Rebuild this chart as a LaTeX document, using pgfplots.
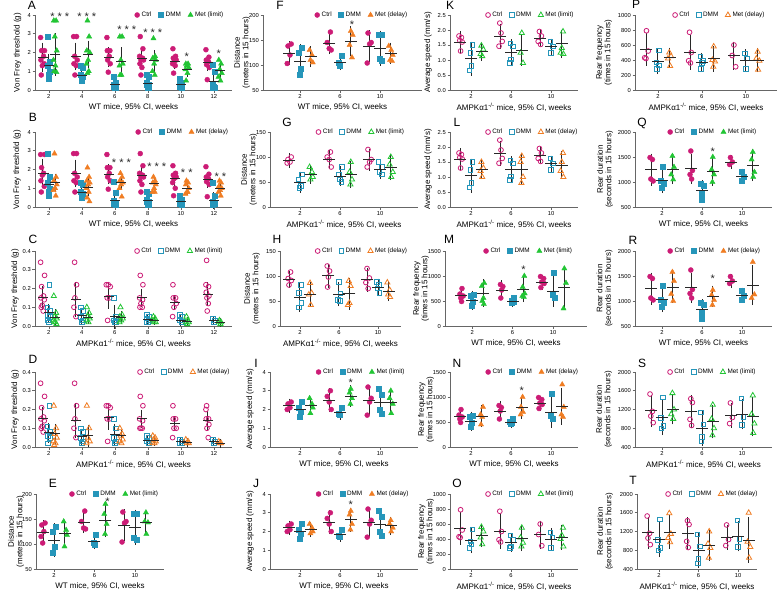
\documentclass[border=0pt]{standalone}
\usepackage{fontspec}
\setmainfont{Liberation Sans}
\usepackage{pgfplots}
\pgfplotsset{compat=1.18}
\definecolor{cc}{RGB}{204,28,118}
\definecolor{dc}{RGB}{38,150,186}
\definecolor{gc}{RGB}{34,197,52}
\definecolor{oc}{RGB}{240,125,35}
\definecolor{ec}{RGB}{40,40,40}
\pgfplotsset{
 base/.style={scale only axis, height=75pt, axis lines=left,
  axis line style={-, black!60, line width=0.7pt},
  tick style={black!60, line width=0.6pt}, tick align=outside, major tick length=2.5pt,
  ticklabel style={font=\fontsize{5.8}{7}\selectfont, inner sep=1.5pt},
  /pgf/number format/assume math mode=true, /pgf/number format/1000 sep={},
  label style={font=\fontsize{8}{8.5}\selectfont}, ylabel style={align=center},
  xlabel style={at={([yshift=-17pt]axis description cs:0.5,0)}, anchor=center},
  clip=false,
  legend style={draw=none, fill=none, font=\fontsize{6.4}{7}\selectfont, legend columns=3,
   inner sep=0pt, /tikz/every even column/.append style={column sep=5pt}},
  legend image code/.code={\draw[##1] plot coordinates {(0pt,0pt)};}},
 pos/.style n args={5}{at={(#1pt,-#2pt)}, anchor=north west, width=#3pt, xmin=#4, xmax=#5},
 leg/.style={legend style={at={(axis description cs:#1,1)}, anchor=west}},
 ylx/.style={ylabel style={at={([xshift=-#1pt]axis description cs:0,0.5)}, anchor=center}},
 six/.style={xtick={0,1,2,3,4,5}, xticklabels={2,4,6,8,10,12}},
 three/.style={xtick={0,1,2}, xticklabels={2,6,10}},
 wt/.style={xlabel={WT mice, 95\% CI, weeks}},
 ko/.style={xlabel={AMPKα1\textsuperscript{-/-} mice, 95\% CI, weeks}},
 lim/.style={legend entries={Ctrl,DMM,Met (limit)}},
 del/.style={legend entries={Ctrl,DMM,Met (delay)}},
 dec1/.style={yticklabel style={/pgf/number format/.cd, fixed, fixed zerofill, precision=1}},
 cF/.style={only marks, mark=*, mark size=2.5pt, mark options={draw=cc, fill=cc}},
 cO/.style={only marks, mark=o, mark size=2.4pt, mark options={draw=cc, line width=0.8pt}},
 dF/.style={only marks, mark=square*, mark size=2.5pt, mark options={draw=dc, fill=dc}},
 dO/.style={only marks, mark=square, mark size=2.3pt, mark options={draw=dc, line width=0.8pt}},
 gF/.style={only marks, mark=triangle*, mark size=3pt, mark options={draw=gc, fill=gc}},
 gO/.style={only marks, mark=triangle, mark size=3pt, mark options={draw=gc, line width=0.8pt}},
 oF/.style={only marks, mark=triangle*, mark size=3pt, mark options={draw=oc, fill=oc}},
 oO/.style={only marks, mark=triangle, mark size=3pt, mark options={draw=oc, line width=0.8pt}},
 ci/.style={forget plot, only marks, mark=-, mark size=6pt, mark options={ec, line width=0.9pt},
  error bars/.cd, y dir=both, y explicit, error bar style={ec, line width=0.9pt},
  error mark options={ec, mark size=3.5pt, line width=0.9pt}},
 ciS/.style={forget plot, only marks, mark=-, mark size=5pt, mark options={ec, line width=0.9pt},
  error bars/.cd, y dir=both, y explicit, error bar style={ec, line width=0.9pt},
  error mark options={ec, mark size=2.5pt, line width=0.9pt}},
}
\tikzset{ast/.style={font=\fontsize{11}{11}\selectfont, inner sep=0pt, text=ec},
 lett/.style={font=\fontsize{12}{12}\selectfont, inner sep=0pt}}
\begin{document}
\begin{tikzpicture}
\path[use as bounding box] (0pt,0pt) rectangle (778pt,-590pt);
% ---------------- A
\begin{axis}[base, pos={35}{15}{197}{-0.42}{5.55}, six, wt, lim, leg=0.505, ylx=17.5, ymin=0, ymax=4, ytick={0,1,2,3,4}, ylabel={Von Frey threshold (g)}]
\addplot[cF] coordinates {(-0.25,2.8)(-0.13,2.1)(-0.22,2.1)(-0.16,1.8)(-0.24,1.6)(-0.14,1.4)(-0.2,1.3)(-0.23,0.8)
(0.75,2.85)(0.84,2.85)(0.78,1.8)(0.86,1.6)(0.76,1.4)(0.83,1.3)(0.79,0.8)
(1.76,2.8)(1.85,2.1)(1.77,2.1)(1.83,1.8)(1.78,1.6)(1.86,1.4)(1.8,0.95)
(2.77,2.85)(2.85,2.2)(2.75,1.8)(2.84,1.7)(2.79,1.6)(2.87,1.6)(2.76,1.4)(2.82,1.2)(2.79,0.8)
(3.76,2.2)(3.84,1.8)(3.77,1.7)(3.86,1.6)(3.79,1.5)(3.75,1.4)(3.83,1.3)(3.78,0.9)
(4.76,2.15)(4.85,1.75)(4.77,1.6)(4.84,1.5)(4.78,1.35)(4.86,1.2)(4.8,0.55)};
\addplot[dF] coordinates {(-0.03,2.85)(0.02,1.5)(-0.04,1.3)(0.04,1.0)(0,0.8)(-0.02,0.6)
(0.97,1.3)(1.03,1.2)(0.98,0.8)(1.04,0.7)(1.0,0.5)
(1.97,0.7)(2.03,0.4)(1.98,0.3)(2.04,0.25)(1.96,0.15)(2.02,0.1)(2.0,0.1)
(2.97,0.8)(3.03,0.7)(2.98,0.4)(3.04,0.3)(2.96,0.3)(3.02,0.1)(3.0,0.1)
(3.97,0.6)(4.03,0.4)(3.98,0.3)(4.04,0.3)(3.96,0.2)(4.02,0.1)
(4.97,1.35)(5.03,1.0)(4.98,0.3)(5.04,0.1)(4.96,0.1)(5.0,0.15)};
\addplot[gF] coordinates {(0.15,3.7)(0.22,3.7)(0.18,2.85)(0.24,2.1)(0.14,1.6)(0.2,1.3)(0.16,1.0)(0.23,0.95)
(1.17,3.7)(1.22,2.85)(1.15,2.1)(1.24,2.0)(1.19,1.6)(1.14,1.4)(1.21,1.0)(1.17,0.9)
(2.15,2.85)(2.22,2.85)(2.18,1.6)(2.24,1.4)(2.14,1.3)(2.2,0.8)(2.16,0.8)
(3.17,2.75)(3.22,1.8)(3.15,1.7)(3.24,1.6)(3.19,1.4)(3.14,1.0)(3.21,0.8)
(4.15,1.4)(4.22,1.4)(4.18,1.3)(4.24,1.2)(4.14,1.1)(4.2,0.9)(4.16,0.5)
(5.15,1.6)(5.22,1.4)(5.18,1.1)(5.24,0.9)(5.14,0.7)(5.2,0.5)};
\addplot[ciS] coordinates {(-0.19,1.75)+-(0,0.65)(0.81,1.8)+-(0,0.6)(1.81,1.75)+-(0,0.4)(2.81,1.7)+-(0,0.3)(3.81,1.5)+-(0,0.25)(4.81,1.45)+-(0,0.3)};
\addplot[ciS] coordinates {(0,1.3)+-(0,0.5)(1,0.75)+-(0,0.3)(2,0.3)+-(0,0.2)(3,0.35)+-(0,0.2)(4,0.3)+-(0,0.15)(5,0.45)+-(0,0.35)};
\addplot[ciS] coordinates {(0.19,1.9)+-(0,1.0)(1.19,1.9)+-(0,0.6)(2.19,1.5)+-(0,0.65)(3.19,1.55)+-(0,0.45)(4.19,1.1)+-(0,0.25)(5.19,1.05)+-(0,0.3)};
\node[ast] at (axis cs:0.33,3.9) {* * *};
\node[ast] at (axis cs:1.15,3.9) {* * *};
\node[ast] at (axis cs:2.36,3.2) {* * *};
\node[ast] at (axis cs:3.15,3.05) {* * *};
\node[ast] at (axis cs:4.18,1.75) {*};
\node[ast] at (axis cs:5.15,1.95) {*};
\end{axis}
% ---------------- B
\begin{axis}[base, pos={35}{132}{197}{-0.42}{5.55}, six, wt, del, leg=0.51, ylx=18, ymin=0, ymax=4, ytick={0,1,2,3,4}, ylabel={Von Frey threshold (g)}]
\addplot[cF] coordinates {(-0.25,2.8)(-0.13,2.8)(-0.22,2.1)(-0.16,1.8)(-0.24,1.4)(-0.14,1.1)(-0.2,1.7)(-0.23,0.8)
(0.75,2.85)(0.84,2.85)(0.78,1.8)(0.86,1.6)(0.76,1.4)(0.83,1.3)(0.79,0.8)
(1.76,2.8)(1.85,2.1)(1.77,2.1)(1.83,1.8)(1.78,1.6)(1.86,1.4)(1.8,0.95)
(2.77,2.85)(2.85,2.2)(2.75,1.8)(2.84,1.7)(2.79,1.6)(2.87,1.6)(2.76,1.4)(2.82,1.2)(2.79,0.8)
(3.76,2.2)(3.84,1.8)(3.77,1.7)(3.86,1.6)(3.79,1.5)(3.75,1.3)(3.83,1.0)(3.78,0.6)
(4.76,2.15)(4.85,1.75)(4.77,1.6)(4.84,1.5)(4.78,1.35)(4.86,1.2)(4.8,0.55)};
\addplot[dF] coordinates {(-0.03,2.85)(0.02,1.6)(-0.04,1.3)(0.04,1.0)(0,0.8)(-0.02,0.6)
(0.97,1.3)(1.03,1.2)(0.98,0.8)(1.04,0.7)(1.0,0.5)
(1.97,1.35)(2.03,0.75)(1.98,0.35)(2.04,0.25)(1.96,0.15)(2.02,0.1)
(2.97,0.8)(3.03,0.7)(2.98,0.4)(3.04,0.3)(2.96,0.3)(3.02,0.1)(3.0,0.1)
(3.97,0.6)(4.03,0.4)(3.98,0.3)(4.04,0.3)(3.96,0.2)(4.02,0.1)
(4.97,1.3)(5.03,0.6)(4.98,0.3)(5.04,0.15)(4.96,0.1)};
\addplot[oF] coordinates {(0.17,2.85)(0.22,1.6)(0.15,1.4)(0.24,1.2)(0.19,1.0)(0.14,0.9)(0.21,0.6)
(1.17,2.1)(1.22,1.6)(1.15,1.4)(1.24,1.3)(1.19,1.2)(1.14,1.0)(1.21,0.8)(1.16,0.5)(1.23,0.3)
(2.17,1.8)(2.22,1.6)(2.15,1.4)(2.24,1.3)(2.19,1.2)(2.14,1.0)(2.21,0.55)
(3.17,1.6)(3.22,1.4)(3.15,1.3)(3.24,1.2)(3.19,1.0)(3.14,0.8)(3.21,0.8)
(4.17,1.4)(4.22,1.3)(4.15,1.2)(4.24,1.0)(4.19,0.8)(4.14,0.7)(4.21,0.8)
(5.17,1.4)(5.22,1.3)(5.15,1.1)(5.24,1.0)(5.19,0.9)(5.14,0.8)(5.21,0.6)};
\addplot[ciS] coordinates {(-0.19,1.8)+-(0,0.65)(0.81,1.8)+-(0,0.6)(1.81,1.75)+-(0,0.4)(2.81,1.7)+-(0,0.3)(3.81,1.5)+-(0,0.3)(4.81,1.45)+-(0,0.3)};
\addplot[ciS] coordinates {(0,1.2)+-(0,0.5)(1,0.75)+-(0,0.3)(2,0.35)+-(0,0.25)(3,0.35)+-(0,0.2)(4,0.3)+-(0,0.15)(5,0.35)+-(0,0.3)};
\addplot[ciS] coordinates {(0.19,1.3)+-(0,0.35)(1.19,1.05)+-(0,0.35)(2.19,1.3)+-(0,0.2)(3.19,1.25)+-(0,0.15)(4.19,1.0)+-(0,0.2)(5.19,1.0)+-(0,0.2)};
\node[ast] at (axis cs:2.2,2.35) {* * *};
\node[ast] at (axis cs:3.27,2.15) {* * *};
\node[ast] at (axis cs:4.18,1.85) {* *};
\node[ast] at (axis cs:5.2,1.6) {* *};
\end{axis}
% ---------------- C
\begin{axis}[base, pos={35}{251}{197}{-0.42}{5.55}, six, ko, lim, leg=0.505, ylx=20, ymin=0, ymax=0.4, ytick={0,0.1,0.2,0.3,0.4}, dec1, ylabel={Von Frey threshold (g)}]
\addplot[cO] coordinates {(-0.25,0.34)(-0.13,0.27)(-0.22,0.21)(-0.16,0.16)(-0.24,0.15)(-0.14,0.14)(-0.2,0.11)(-0.23,0.1)(-0.17,0.08)
(0.78,0.34)(0.84,0.22)(0.79,0.15)(0.76,0.1)(0.82,0.05)
(1.74,0.22)(1.8,0.22)(1.86,0.21)(1.77,0.15)(1.84,0.15)(1.78,0.03)
(2.77,0.27)(2.85,0.22)(2.75,0.15)(2.84,0.14)(2.79,0.12)(2.76,0.1)(2.83,0.1)
(3.76,0.22)(3.84,0.15)(3.77,0.15)(3.86,0.12)(3.79,0.1)(3.75,0.05)
(4.78,0.35)(4.76,0.22)(4.84,0.21)(4.77,0.18)(4.85,0.16)(4.79,0.15)(4.83,0.12)(4.8,0.08)};
\addplot[dO] coordinates {(0.02,0.22)(-0.04,0.1)(0.04,0.08)(-0.02,0.06)(0.03,0.05)(-0.03,0.03)(0,0.02)
(0.97,0.1)(1.03,0.08)(0.98,0.05)(1.04,0.03)(1.0,0.02)
(1.97,0.15)(2.03,0.05)(1.98,0.03)(2.04,0.02)(2.0,0.02)
(2.97,0.06)(3.03,0.05)(2.98,0.04)(3.04,0.03)(2.96,0.02)(3.02,0.02)
(3.97,0.06)(4.03,0.05)(3.98,0.03)(4.04,0.02)
(4.97,0.04)(5.03,0.03)(5.0,0.02)};
\addplot[gO] coordinates {(0.15,0.16)(0.22,0.07)(0.18,0.05)(0.24,0.04)(0.14,0.03)(0.2,0.02)(0.16,0.02)(0.23,0.01)
(1.15,0.1)(1.22,0.07)(1.18,0.05)(1.24,0.04)(1.14,0.03)(1.2,0.02)
(2.17,0.1)(2.22,0.06)(2.15,0.05)(2.24,0.04)(2.19,0.03)(2.14,0.02)
(3.17,0.05)(3.22,0.04)(3.15,0.03)(3.24,0.02)(3.19,0.02)
(4.17,0.05)(4.22,0.03)(4.15,0.02)(4.24,0.02)(4.19,0.01)
(5.17,0.03)(5.22,0.02)(5.15,0.02)(5.2,0.01)};
\addplot[ciS] coordinates {(-0.19,0.15)+-(0,0.05)(0.81,0.14)+-(0,0.08)(1.81,0.16)+-(0,0.055)(2.81,0.15)+-(0,0.035)(3.81,0.125)+-(0,0.025)(4.81,0.17)+-(0,0.05)};
\addplot[ciS] coordinates {(0,0.07)+-(0,0.035)(1,0.055)+-(0,0.03)(2,0.05)+-(0,0.05)(3,0.035)+-(0,0.015)(4,0.03)+-(0,0.015)(5,0.03)+-(0,0.01)};
\addplot[ciS] coordinates {(0.19,0.045)+-(0,0.03)(1.19,0.045)+-(0,0.02)(2.19,0.045)+-(0,0.02)(3.19,0.03)+-(0,0.01)(4.19,0.025)+-(0,0.01)(5.19,0.02)+-(0,0.01)};
\end{axis}
% ---------------- D
\begin{axis}[base, pos={35}{372}{197}{-0.42}{5.55}, six, ko, del, leg=0.52, ylx=20, ymin=0, ymax=0.4, ytick={0,0.1,0.2,0.3,0.4}, dec1, ylabel={Von Frey threshold (g)}]
\addplot[cO] coordinates {(-0.25,0.34)(-0.13,0.27)(-0.22,0.21)(-0.16,0.16)(-0.24,0.15)(-0.14,0.14)(-0.2,0.11)(-0.23,0.1)(-0.17,0.08)
(0.78,0.34)(0.84,0.22)(0.79,0.15)(0.76,0.1)(0.82,0.05)
(1.74,0.22)(1.8,0.22)(1.86,0.21)(1.77,0.15)(1.84,0.15)(1.78,0.03)
(2.77,0.27)(2.85,0.22)(2.75,0.15)(2.84,0.14)(2.79,0.1)(2.76,0.1)(2.83,0.1)
(3.76,0.22)(3.84,0.15)(3.77,0.15)(3.86,0.1)(3.79,0.1)(3.75,0.05)
(4.78,0.22)(4.76,0.2)(4.84,0.15)(4.77,0.15)(4.85,0.12)(4.79,0.1)(4.83,0.05)};
\addplot[dO] coordinates {(0.02,0.22)(-0.04,0.11)(0.04,0.08)(-0.02,0.06)(0.03,0.05)(-0.03,0.02)
(0.97,0.1)(1.03,0.08)(0.98,0.05)(1.04,0.03)(1.0,0.02)
(1.97,0.15)(2.03,0.1)(1.98,0.05)(2.04,0.03)(2.0,0.02)
(2.97,0.06)(3.03,0.05)(2.98,0.03)(3.04,0.02)(3.02,0.02)
(3.97,0.04)(4.03,0.03)(3.98,0.02)(4.04,0.02)
(4.97,0.04)(5.03,0.03)(5.0,0.02)};
\addplot[oO] coordinates {(0.15,0.22)(0.22,0.1)(0.18,0.07)(0.24,0.05)(0.14,0.03)(0.2,0.02)(0.16,0.01)
(1.15,0.22)(1.22,0.1)(1.18,0.05)(1.24,0.03)(1.14,0.02)
(2.15,0.1)(2.22,0.07)(2.18,0.06)(2.24,0.04)(2.14,0.03)(2.2,0.02)
(3.15,0.06)(3.22,0.05)(3.18,0.04)(3.24,0.03)(3.14,0.02)(3.2,0.02)
(4.15,0.04)(4.22,0.03)(4.18,0.02)(4.24,0.02)
(5.15,0.03)(5.22,0.02)(5.18,0.02)};
\addplot[ciS] coordinates {(-0.19,0.15)+-(0,0.05)(0.81,0.14)+-(0,0.08)(1.81,0.16)+-(0,0.055)(2.81,0.15)+-(0,0.035)(3.81,0.125)+-(0,0.025)(4.81,0.14)+-(0,0.04)};
\addplot[ciS] coordinates {(0,0.075)+-(0,0.04)(1,0.055)+-(0,0.03)(2,0.065)+-(0,0.045)(3,0.035)+-(0,0.015)(4,0.03)+-(0,0.01)(5,0.03)+-(0,0.01)};
\addplot[ciS] coordinates {(0.19,0.07)+-(0,0.04)(1.19,0.06)+-(0,0.045)(2.19,0.06)+-(0,0.02)(3.19,0.035)+-(0,0.015)(4.19,0.025)+-(0,0.01)(5.19,0.02)+-(0,0.01)};
\end{axis}
% ---------------- E
\begin{axis}[base, pos={36}{494}{128}{-0.444}{2.716}, three, wt, lim, leg=0.26, ylx=20, ymin=50, ymax=200, ytick={50,100,150,200}, ylabel={Distance\\(meters in 15 hours)}]
\addplot[cF] coordinates {(-0.22,142)(-0.3,138)(-0.25,125)(-0.32,115)(-0.28,102)(0.76,166)(0.68,145)(0.73,132)(0.78,130)(1.7,164)(1.78,145)(1.74,142)(1.68,104)};
\addplot[dF] coordinates {(0.04,135)(-0.04,125)(0.02,95)(-0.02,82)(1.04,118)(0.97,103)(1.0,99)(1.96,160)(2.04,160)(1.98,112)(2.05,108)};
\addplot[gF] coordinates {(0.24,145)(0.3,128)(0.32,118)(0.26,95)(1.27,180)(1.24,160)(1.3,140)(1.26,120)(2.27,163)(2.24,145)(2.32,143)(2.28,120)};
\addplot[ci] coordinates {(-0.27,124)+-(0,17)(0.73,144)+-(0,15)(1.73,138)+-(0,25)};
\addplot[ci] coordinates {(0,108)+-(0,27)(1,106)+-(0,9)(2,134)+-(0,28)};
\addplot[ci] coordinates {(0.27,121)+-(0,21)(1.27,148)+-(0,27)(2.27,143)+-(0,17)};
\node[ast] at (axis cs:1.32,184) {*};
\end{axis}
% ---------------- F
\begin{axis}[base, pos={263}{15}{159}{-0.925}{3.05}, three, wt, del, leg=0.324, ylx=21, ymin=50, ymax=200, ytick={50,100,150,200}, ylabel={Distance\\(meters in 15 hours)}]
\addplot[cF] coordinates {(-0.22,142)(-0.3,138)(-0.25,120)(-0.32,103)(0.76,166)(0.68,145)(0.73,133)(0.78,130)(1.7,164)(1.78,145)(1.74,142)(1.68,104)};
\addplot[dF] coordinates {(0.04,135)(-0.04,125)(0.02,93)(-0.02,80)(1.04,118)(0.97,105)(1.0,99)(1.96,160)(2.04,160)(1.98,112)(2.05,108)};
\addplot[oF] coordinates {(0.24,130)(0.3,120)(0.26,110)(0.32,105)(1.27,168)(1.32,160)(1.24,140)(1.3,115)(2.22,138)(2.28,130)(2.32,120)(2.25,110)(2.3,108)};
\addplot[ci] coordinates {(-0.27,124)+-(0,17)(0.73,144)+-(0,15)(1.73,138)+-(0,25)};
\addplot[ci] coordinates {(0,108)+-(0,27)(1,106)+-(0,9)(2,134)+-(0,28)};
\addplot[ci] coordinates {(0.27,117)+-(0,14)(1.27,148)+-(0,23)(2.27,124)+-(0,14)};
\node[ast] at (axis cs:1.3,180) {*};
\end{axis}
% ---------------- G
\begin{axis}[base, pos={270}{132}{148}{-0.75}{2.95}, three, ko, lim, leg=0.31, ylx=21, ymin=0, ymax=150, ytick={0,50,100,150}, ylabel={Distance\\(meters in 15 hours)}]
\addplot[cO] coordinates {(-0.22,100)(-0.3,95)(-0.25,90)(-0.32,88)(0.76,110)(0.68,100)(0.73,95)(0.78,80)(1.7,115)(1.78,95)(1.74,90)(1.68,80)};
\addplot[dO] coordinates {(0.04,65)(-0.04,55)(0.02,42)(-0.02,38)(1.04,80)(0.97,65)(1.0,55)(1.03,50)(1.96,90)(2.04,80)(1.98,70)(2.05,65)};
\addplot[gO] coordinates {(0.24,80)(0.3,70)(0.32,60)(0.26,55)(1.27,90)(1.24,70)(1.3,55)(1.26,45)(2.27,100)(2.24,85)(2.32,70)(2.28,60)};
\addplot[ci] coordinates {(-0.27,93)+-(0,8)(0.73,96)+-(0,12)(1.73,95)+-(0,15)};
\addplot[ci] coordinates {(0,50)+-(0,14)(1,62)+-(0,13)(2,76)+-(0,12)};
\addplot[ci] coordinates {(0.27,66)+-(0,12)(1.27,65)+-(0,20)(2.27,79)+-(0,18)};
\end{axis}
% ---------------- H
\begin{axis}[base, pos={280}{251}{121}{-0.51}{2.59}, three, ko, del, leg=0.29, ylx=28, ymin=0, ymax=150, ytick={0,50,100,150}, ylabel={Distance\\(meters in 15 hours)}]
\addplot[cO] coordinates {(-0.24,108)(-0.3,95)(-0.22,91)(-0.28,82)(0.7,120)(0.76,110)(0.73,98)(0.71,78)(1.72,115)(1.78,96)(1.69,87)(1.75,75)};
\addplot[dO] coordinates {(0.02,82)(-0.03,66)(0.04,46)(-0.02,37)(1.0,88)(1.04,65)(0.97,52)(1.02,50)(1.97,88)(2.03,82)(1.99,75)(2.04,66)};
\addplot[oO] coordinates {(0.26,86)(0.3,66)(0.23,63)(0.28,42)(1.25,90)(1.3,80)(1.27,46)(1.23,42)(2.24,87)(2.3,72)(2.26,63)(2.31,58)};
\addplot[ci] coordinates {(-0.27,94)+-(0,10)(0.73,101)+-(0,17)(1.73,93)+-(0,17)};
\addplot[ci] coordinates {(0,58)+-(0,22)(1,64)+-(0,17)(2,78)+-(0,10)};
\addplot[ci] coordinates {(0.27,64)+-(0,18)(1.27,65)+-(0,25)(2.27,70)+-(0,13)};
\end{axis}
% ---------------- I
\begin{axis}[base, pos={270}{372}{148}{-0.75}{2.95}, three, wt, lim, leg=0.31, ylx=20, ymin=0, ymax=4, ytick={0,1,2,3,4}, ylabel={Average speed (mm/s)}]
\addplot[cF] coordinates {(-0.22,2.4)(-0.3,2.3)(-0.25,2.1)(-0.32,2.0)(0.76,3.0)(0.68,2.7)(0.73,2.4)(0.78,2.0)(1.7,3.2)(1.78,2.6)(1.74,2.4)(1.68,1.7)};
\addplot[dF] coordinates {(0.04,2.4)(-0.04,2.1)(0.02,1.9)(-0.02,1.6)(1.04,2.1)(0.97,1.8)(1.0,1.7)(1.96,3.1)(2.04,2.8)(1.98,2.0)(2.05,1.8)};
\addplot[gF] coordinates {(0.24,2.6)(0.3,2.3)(0.32,2.1)(0.26,1.8)(1.27,3.1)(1.24,2.9)(1.3,2.6)(1.26,2.3)(2.27,3.0)(2.24,2.6)(2.32,2.3)(2.28,1.8)};
\addplot[ci] coordinates {(-0.27,2.2)+-(0,0.2)(0.73,2.5)+-(0,0.45)(1.73,2.5)+-(0,0.6)};
\addplot[ci] coordinates {(0,2.0)+-(0,0.3)(1,1.85)+-(0,0.2)(2,2.4)+-(0,0.6)};
\addplot[ci] coordinates {(0.27,2.2)+-(0,0.3)(1.27,2.72)+-(0,0.38)(2.27,2.4)+-(0,0.5)};
\node[ast] at (axis cs:1.27,3.45) {*};
\end{axis}
% ---------------- J
\begin{axis}[base, pos={270}{494}{148}{-0.75}{2.95}, three, wt, del, leg=0.31, ylx=20, ymin=0, ymax=4, ytick={0,1,2,3,4}, ylabel={Average speed (mm/s)}]
\addplot[cF] coordinates {(-0.22,2.4)(-0.3,2.3)(-0.25,2.1)(-0.32,2.0)(0.76,3.0)(0.68,2.7)(0.73,2.4)(0.78,2.0)(1.7,3.2)(1.78,2.6)(1.74,2.4)(1.68,1.7)};
\addplot[dF] coordinates {(0.04,2.4)(-0.04,2.1)(0.02,1.9)(-0.02,1.6)(1.04,2.1)(0.97,1.8)(1.0,1.7)(1.96,3.1)(2.04,2.8)(1.98,2.0)(2.05,1.8)};
\addplot[oF] coordinates {(0.24,2.4)(0.3,2.2)(0.32,2.0)(0.26,1.9)(1.27,3.1)(1.24,2.9)(1.3,2.4)(1.26,2.1)(2.27,2.6)(2.24,2.4)(2.32,2.2)(2.28,2.0)};
\addplot[ci] coordinates {(-0.27,2.2)+-(0,0.2)(0.73,2.5)+-(0,0.45)(1.73,2.5)+-(0,0.6)};
\addplot[ci] coordinates {(0,2.0)+-(0,0.3)(1,1.85)+-(0,0.2)(2,2.4)+-(0,0.6)};
\addplot[ci] coordinates {(0.27,2.1)+-(0,0.2)(1.27,2.62)+-(0,0.45)(2.27,2.3)+-(0,0.3)};
\node[ast] at (axis cs:1.27,3.45) {*};
\end{axis}
% ---------------- K
\begin{axis}[base, pos={450}{15}{128}{-0.525}{2.675}, three, ko, lim, leg=0.277, ylx=22, ymin=0, ymax=2.5, ytick={0,0.5,1,1.5,2,2.5}, dec1, ylabel={Average speed (mm/s)}]
\addplot[cO] coordinates {(-0.3,1.8)(-0.24,1.75)(-0.28,1.65)(-0.22,1.6)(-0.26,1.3)(0.72,2.23)(0.75,1.9)(0.78,1.62)(0.7,1.46)(1.71,1.95)(1.76,1.8)(1.68,1.62)(1.74,1.52)};
\addplot[dO] coordinates {(0.03,1.5)(-0.02,1.24)(0.01,0.8)(-0.04,0.66)(0.98,1.56)(1.04,1.46)(1.0,1.02)(0.97,0.9)(1.98,1.62)(2.04,1.46)(2.0,1.24)};
\addplot[gO] coordinates {(0.26,1.48)(0.31,1.35)(0.24,1.2)(0.28,1.13)(1.27,1.9)(1.24,1.24)(1.3,0.9)(2.3,1.95)(2.27,1.4)(2.24,1.24)(2.31,1.2)};
\addplot[ci] coordinates {(-0.27,1.6)+-(0,0.25)(0.73,1.8)+-(0,0.3)(1.73,1.73)+-(0,0.15)};
\addplot[ci] coordinates {(0,1.05)+-(0,0.45)(1,1.24)+-(0,0.33)(2,1.45)+-(0,0.15)};
\addplot[ci] coordinates {(0.27,1.28)+-(0,0.18)(1.27,1.33)+-(0,0.4)(2.27,1.55)+-(0,0.35)};
\end{axis}
% ---------------- L
\begin{axis}[base, pos={450}{132}{128}{-0.525}{2.675}, three, ko, del, leg=0.277, ylx=22, ymin=0, ymax=2.5, ytick={0,0.5,1,1.5,2,2.5}, dec1, ylabel={Average speed (mm/s)}]
\addplot[cO] coordinates {(-0.3,1.8)(-0.24,1.75)(-0.28,1.65)(-0.22,1.6)(-0.26,1.3)(0.72,2.23)(0.75,1.9)(0.78,1.62)(0.7,1.46)(1.71,1.95)(1.76,1.8)(1.68,1.62)(1.74,1.52)};
\addplot[dO] coordinates {(0.03,1.5)(-0.02,1.24)(0.01,0.8)(-0.04,0.66)(0.98,1.56)(1.04,1.46)(1.0,1.02)(0.97,0.9)(1.98,1.62)(2.04,1.46)(2.0,1.24)};
\addplot[oO] coordinates {(0.26,1.5)(0.31,1.3)(0.24,1.2)(0.28,1.0)(1.27,1.7)(1.24,1.5)(1.3,1.0)(1.26,0.8)(2.3,1.8)(2.27,1.5)(2.24,1.2)(2.31,1.0)};
\addplot[ci] coordinates {(-0.27,1.6)+-(0,0.25)(0.73,1.8)+-(0,0.3)(1.73,1.73)+-(0,0.15)};
\addplot[ci] coordinates {(0,1.05)+-(0,0.45)(1,1.24)+-(0,0.33)(2,1.45)+-(0,0.15)};
\addplot[ci] coordinates {(0.27,1.25)+-(0,0.2)(1.27,1.25)+-(0,0.4)(2.27,1.4)+-(0,0.35)};
\end{axis}
% ---------------- M
\begin{axis}[base, pos={445}{251}{142}{-0.67}{2.84}, three, wt, lim, leg=0.27, ylx=24, ymin=0, ymax=1500, ytick={0,500,1000,1500}, ylabel={Rear frequency\\(times in 15 hours)}]
\addplot[cF] coordinates {(-0.25,750)(-0.3,640)(-0.22,600)(-0.28,560)(-0.26,490)(0.7,830)(0.76,790)(0.73,720)(0.71,560)(1.69,990)(1.77,950)(1.72,880)(1.78,850)(1.7,770)};
\addplot[dF] coordinates {(0.04,630)(-0.03,600)(0.02,480)(-0.02,400)(1.03,570)(0.97,500)(1.02,480)(0.99,470)(2.02,1070)(1.98,620)(2.03,560)};
\addplot[gF] coordinates {(0.3,860)(0.24,800)(0.28,560)(0.25,500)(0.29,440)(1.29,1000)(1.25,780)(1.3,650)(1.24,600)(1.28,580)(2.28,1150)(2.32,860)(2.26,350)};
\addplot[ci] coordinates {(-0.27,610)+-(0,90)(0.73,720)+-(0,125)(1.73,880)+-(0,80)};
\addplot[ci] coordinates {(0,520)+-(0,120)(1,500)+-(0,50)(2,700)+-(0,245)};
\addplot[ci] coordinates {(0.27,660)+-(0,205)(1.27,730)+-(0,180)(2.27,780)+-(0,340)};
\node[ast] at (axis cs:1.27,1120) {*};
\end{axis}
% ---------------- N
\begin{axis}[base, pos={450}{372}{128}{-0.525}{2.675}, three, wt, del, leg=0.277, ylx=24, ymin=0, ymax=1500, ytick={0,500,1000,1500}, ylabel={Rear frequency\\(times in 15 hours)}]
\addplot[cF] coordinates {(-0.25,750)(-0.3,640)(-0.22,600)(-0.28,560)(-0.26,490)(0.7,830)(0.76,790)(0.73,720)(0.71,560)(1.69,990)(1.77,950)(1.72,880)(1.78,850)(1.7,770)};
\addplot[dF] coordinates {(0.04,630)(-0.03,600)(0.02,480)(-0.02,400)(1.03,570)(0.97,500)(1.02,480)(0.99,470)(2.02,1070)(1.98,620)(2.03,560)};
\addplot[oF] coordinates {(0.3,800)(0.24,650)(0.28,600)(0.25,450)(1.29,1000)(1.25,800)(1.3,700)(1.24,650)(2.28,1250)(2.32,800)(2.26,650)(2.3,600)};
\addplot[ci] coordinates {(-0.27,610)+-(0,90)(0.73,720)+-(0,125)(1.73,880)+-(0,80)};
\addplot[ci] coordinates {(0,520)+-(0,120)(1,500)+-(0,50)(2,700)+-(0,245)};
\addplot[ci] coordinates {(0.27,620)+-(0,150)(1.27,790)+-(0,150)(2.27,820)+-(0,300)};
\node[ast] at (axis cs:1.27,1120) {*};
\end{axis}
% ---------------- O
\begin{axis}[base, pos={450}{494}{128}{-0.525}{2.675}, three, ko, lim, leg=0.277, ylx=24, ymin=0, ymax=1000, ytick={0,200,400,600,800,1000}, ylabel={Rear frequency\\(times in 15 hours)}]
\addplot[cO] coordinates {(-0.26,790)(-0.22,520)(-0.3,430)(-0.27,420)(0.72,770)(0.76,500)(0.7,390)(0.74,360)(1.73,600)(1.69,460)(1.77,310)};
\addplot[dO] coordinates {(0.03,530)(-0.02,370)(0.01,330)(-0.04,280)(0.98,450)(1.04,390)(1.0,300)(0.97,280)(1.98,490)(2.03,420)(2.0,280)};
\addplot[gO] coordinates {(0.26,560)(0.31,500)(0.24,420)(0.28,330)(1.27,550)(1.24,420)(1.3,350)(1.26,300)(2.3,550)(2.27,450)(2.24,400)(2.31,300)};
\addplot[ci] coordinates {(-0.27,545)+-(0,175)(0.73,505)+-(0,185)(1.73,460)+-(0,140)};
\addplot[ci] coordinates {(0,380)+-(0,120)(1,355)+-(0,75)(2,400)+-(0,95)};
\addplot[ci] coordinates {(0.27,450)+-(0,110)(1.27,405)+-(0,120)(2.27,425)+-(0,120)};
\end{axis}
% ---------------- P
\begin{axis}[base, pos={635}{15}{142}{-0.52}{2.71}, three, ko, del, leg=0.264, ylx=31, ymin=0, ymax=1000, ytick={0,200,400,600,800,1000}, ylabel={Rear frequency\\(times in 15 hours)}]
\addplot[cO] coordinates {(-0.26,790)(-0.22,520)(-0.3,430)(-0.27,420)(0.72,770)(0.76,500)(0.7,390)(0.74,360)(1.73,600)(1.69,460)(1.77,310)};
\addplot[dO] coordinates {(0.02,530)(-0.03,370)(0.03,330)(-0.02,280)(0.97,450)(1.03,390)(1.0,360)(0.98,280)(1.98,490)(2.03,420)(2.0,280)};
\addplot[oO] coordinates {(0.26,500)(0.3,450)(0.23,420)(0.28,320)(1.27,580)(1.24,400)(1.3,380)(1.26,310)(2.27,510)(2.24,420)(2.31,390)(2.28,270)};
\addplot[ci] coordinates {(-0.27,545)+-(0,175)(0.73,505)+-(0,185)(1.73,460)+-(0,140)};
\addplot[ci] coordinates {(0,380)+-(0,120)(1,370)+-(0,80)(2,400)+-(0,95)};
\addplot[ci] coordinates {(0.27,440)+-(0,80)(1.27,415)+-(0,125)(2.27,400)+-(0,115)};
\end{axis}
% ---------------- Q
\begin{axis}[base, pos={635}{132}{137}{-0.675}{2.75}, three, wt, lim, leg=0.237, ylx=30, ymin=500, ymax=2000, ytick={500,1000,1500,2000}, ylabel={Rear duration\\(seconds in 15 hours)}]
\addplot[cF] coordinates {(-0.3,1490)(-0.24,1450)(-0.28,1060)(-0.22,1020)(0.72,1620)(0.76,1230)(0.7,1150)(0.74,1060)(1.71,1490)(1.76,1400)(1.69,1350)};
\addplot[dF] coordinates {(0.02,1300)(-0.03,1020)(0.03,960)(-0.02,880)(0.97,970)(1.03,920)(1.0,770)(0.98,650)(1.98,1200)(2.03,1100)(2.0,1030)};
\addplot[gF] coordinates {(0.26,1520)(0.3,1300)(0.23,1150)(0.28,1050)(1.27,1500)(1.24,1250)(1.3,1150)(1.26,1000)(2.27,1600)(2.24,1450)(2.31,1200)(2.28,1100)};
\addplot[ci] coordinates {(-0.27,1250)+-(0,250)(0.73,1270)+-(0,230)(1.73,1400)+-(0,70)};
\addplot[ci] coordinates {(0,1030)+-(0,180)(1,830)+-(0,140)(2,1120)+-(0,80)};
\addplot[ci] coordinates {(0.27,1250)+-(0,220)(1.27,1220)+-(0,230)(2.27,1340)+-(0,250)};
\node[ast] at (axis cs:1.27,1600) {*};
\end{axis}
% ---------------- R
\begin{axis}[base, pos={635}{251}{137}{-0.675}{2.75}, three, wt, del, leg=0.237, ylx=30.5, ymin=500, ymax=2000, ytick={500,1000,1500,2000}, ylabel={Rear duration\\(seconds in 15 hours)}]
\addplot[cF] coordinates {(-0.3,1490)(-0.24,1450)(-0.28,1060)(-0.22,1020)(0.72,1620)(0.76,1230)(0.7,1150)(0.74,1060)(1.71,1490)(1.76,1400)(1.69,1350)};
\addplot[dF] coordinates {(0.02,1300)(-0.03,1020)(0.03,960)(-0.02,880)(0.97,970)(1.03,920)(1.0,770)(0.98,650)(1.98,1200)(2.03,1100)(2.0,1030)};
\addplot[oF] coordinates {(0.26,1580)(0.3,1400)(0.23,1140)(0.28,1000)(1.27,1220)(1.24,1120)(1.3,1020)(1.26,920)(2.27,1780)(2.31,1130)(2.24,1060)};
\addplot[ci] coordinates {(-0.27,1250)+-(0,250)(0.73,1270)+-(0,230)(1.73,1400)+-(0,70)};
\addplot[ci] coordinates {(0,1030)+-(0,180)(1,830)+-(0,140)(2,1120)+-(0,80)};
\addplot[ci] coordinates {(0.27,1270)+-(0,230)(1.27,1100)+-(0,140)(2.27,1320)+-(0,330)};
\node[ast] at (axis cs:1.27,1450) {*};
\end{axis}
% ---------------- S
\begin{axis}[base, pos={635}{372}{137}{-0.675}{2.75}, three, ko, lim, leg=0.237, ylx=31, ymin=400, ymax=2000, ytick={400,800,1200,1600,2000}, ylabel={Rear duration\\(seconds in 15 hours)}]
\addplot[cO] coordinates {(-0.3,1530)(-0.24,1160)(-0.28,1060)(-0.22,920)(0.72,1430)(0.76,1350)(0.7,990)(0.74,860)(1.71,1340)(1.76,1030)(1.69,900)};
\addplot[dO] coordinates {(0.02,1460)(-0.03,1020)(0.03,850)(-0.02,800)(0.97,1140)(1.03,880)(1.0,620)(0.98,520)(1.98,1440)(2.03,1040)(2.0,870)};
\addplot[gO] coordinates {(0.26,1550)(0.3,1200)(0.23,1100)(0.28,1000)(1.27,1300)(1.24,1000)(1.3,800)(1.26,650)(2.27,1500)(2.24,1100)(2.31,900)(2.28,700)};
\addplot[ci] coordinates {(-0.27,1170)+-(0,270)(0.73,1150)+-(0,280)(1.73,1080)+-(0,190)};
\addplot[ci] coordinates {(0,1030)+-(0,300)(1,800)+-(0,300)(2,1100)+-(0,250)};
\addplot[ci] coordinates {(0.27,1210)+-(0,250)(1.27,940)+-(0,280)(2.27,1050)+-(0,350)};
\end{axis}
% ---------------- T
\begin{axis}[base, pos={637}{494}{120}{-0.557}{2.48}, three, ko, del, leg=0.2375, ylx=32, ymin=400, ymax=2000, ytick={400,800,1200,1600,2000}, ylabel={Rear duration\\(seconds in 15 hours)}]
\addplot[cO] coordinates {(-0.3,1530)(-0.24,1160)(-0.28,1060)(-0.22,920)(0.72,1430)(0.76,1350)(0.7,990)(0.74,860)(1.71,1340)(1.76,1030)(1.69,900)};
\addplot[dO] coordinates {(0.02,1460)(-0.03,1020)(0.03,850)(-0.02,800)(0.97,1140)(1.03,880)(1.0,620)(0.98,520)(1.98,1440)(2.03,1040)(2.0,870)};
\addplot[oO] coordinates {(0.26,1590)(0.3,1150)(0.23,1060)(0.28,970)(1.27,1200)(1.24,940)(1.3,850)(1.26,640)(2.27,1600)(2.24,980)(2.31,870)(2.28,640)};
\addplot[ci] coordinates {(-0.27,1170)+-(0,270)(0.73,1150)+-(0,280)(1.73,1080)+-(0,190)};
\addplot[ci] coordinates {(0,1030)+-(0,300)(1,800)+-(0,300)(2,1100)+-(0,250)};
\addplot[ci] coordinates {(0.27,1190)+-(0,285)(1.27,910)+-(0,255)(2.27,1020)+-(0,410)};
\end{axis}
% ---------------- panel letters
\node[lett] at (32pt,-5pt) {A};
\node[lett] at (33pt,-117pt) {B};
\node[lett] at (33pt,-239pt) {C};
\node[lett] at (33pt,-359pt) {D};
\node[lett] at (53pt,-483pt) {E};
\node[lett] at (280pt,-5pt) {F};
\node[lett] at (287pt,-122pt) {G};
\node[lett] at (277pt,-239pt) {H};
\node[lett] at (256pt,-363pt) {I};
\node[lett] at (256pt,-483pt) {J};
\node[lett] at (450pt,-5pt) {K};
\node[lett] at (457pt,-122pt) {L};
\node[lett] at (449pt,-239pt) {M};
\node[lett] at (457pt,-363pt) {N};
\node[lett] at (457pt,-483pt) {O};
\node[lett] at (636pt,-4pt) {P};
\node[lett] at (642pt,-123pt) {Q};
\node[lett] at (633pt,-240pt) {R};
\node[lett] at (642pt,-363pt) {S};
\node[lett] at (633pt,-480pt) {T};
\end{tikzpicture}
\end{document}
